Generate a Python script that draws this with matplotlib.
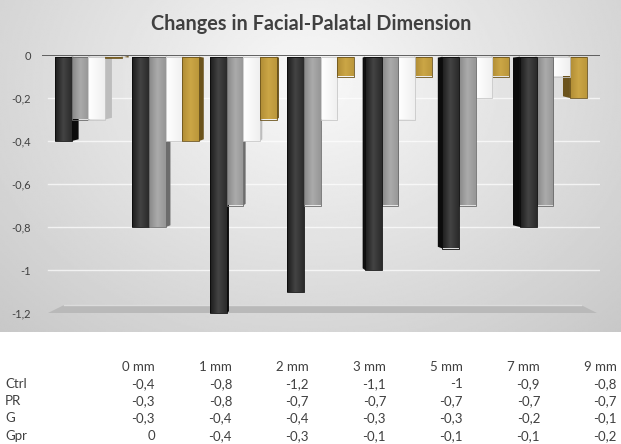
import numpy as np
import matplotlib
matplotlib.use("Agg")
import matplotlib.pyplot as plt
from matplotlib.patches import Polygon, Rectangle
from matplotlib.colors import LinearSegmentedColormap

# ---------------- data ----------------
categories = ["0 mm", "1 mm", "2 mm", "3 mm", "5 mm", "7 mm", "9 mm"]
series_names = ["Ctrl", "PR", "G", "Gpr"]
ctrl = [-0.4, -0.8, -1.2, -1.1, -1.0, -0.9, -0.8]
pr = [-0.3, -0.8, -0.7, -0.7, -0.7, -0.7, -0.7]
g = [-0.3, -0.4, -0.4, -0.3, -0.3, -0.2, -0.1]
gpr = [0.0, -0.4, -0.3, -0.1, -0.1, -0.1, -0.2]
series_values = [ctrl, pr, g, gpr]
y_ticks = [0, -0.2, -0.4, -0.6, -0.8, -1.0, -1.2]
title = "Changes in Facial-Palatal Dimension"

# ---------------- styles ----------------
FONT = ["Lato", "DejaVu Sans"]
TXT = "#404040"
front_cols = [
    ["#1c1c1c", "#444444", "#2a2a2a"],
    ["#888888", "#ababab", "#969696"],
    ["#ffffff", "#f8f8f8", "#efefef"],
    ["#b08c35", "#cba646", "#bb973b"],
]
side_cols = ["#0c0c0c", "#6c6c6c", "#bdbdbd", "#6b531c"]

W, H = 621, 444
fig = plt.figure(figsize=(W / 100, H / 100), dpi=100)
fig.patch.set_facecolor("white")

def px2fig(x, y):
    return x / W, 1 - y / H

# background gradient panel (chart area)
bg_top, bg_bot = 0, 332
bgax = fig.add_axes([0, 1 - bg_bot / H, 1, (bg_bot - bg_top) / H])
bgax.set_axis_off()
ny, nx = 200, 400
yy, xx = np.mgrid[0:1:ny * 1j, 0:1:nx * 1j]
r = np.sqrt(((xx - 0.5) / 0.75) ** 2 + ((yy - 0.25) / 1.1) ** 2)
val = np.clip(0.975 - 0.2 * r, 0.76, 1.0)
bgax.imshow(val, cmap="gray", vmin=0, vmax=1, aspect="auto",
            extent=[0, 1, 1, 0], interpolation="bilinear")
bgax.set_xlim(0, 1)
bgax.set_ylim(1, 0)

# main axes: pixel(x) = 88.3 + 77.5 x ; pixel(y) = 55 - 215 y
ax_l, ax_r = 42, 600
ax_t = 55
ymin = -1.25
ax_b = 55 + 215 * (-ymin)
ax = fig.add_axes([ax_l / W, 1 - ax_b / H, (ax_r - ax_l) / W, (ax_b - ax_t) / H])
ax.patch.set_alpha(0)
xlim = ((ax_l - 88.3) / 77.5, (ax_r - 88.3) / 77.5)
ax.set_xlim(*xlim)
ax.set_ylim(ymin, 0)
for s in ax.spines.values():
    s.set_visible(False)
ax.set_xticks([])
ax.set_yticks(y_ticks)
ax.set_yticklabels([("%g" % t).replace(".", ",") if t != 0 else "0" for t in y_ticks],
                   fontsize=8, color=TXT, family=FONT)
ax.tick_params(axis="y", length=0, pad=8)

def px_x(p):
    return (p - 88.3) / 77.5

# gridlines (faint)
for t in y_ticks[1:-1]:
    ax.plot([px_x(48), px_x(600)], [t, t], color="white", lw=1.0, alpha=0.7, zorder=1)

# floor
floor = Polygon([[px_x(64), -1.163], [px_x(581), -1.163], [px_x(597), -1.2], [px_x(48), -1.2]],
                closed=True, facecolor="#b9b9b9", edgecolor="none", zorder=1)
ax.add_patch(floor)
ax.plot([px_x(64), px_x(581)], [-1.163, -1.163], color="#dcdcdc", lw=1.0, zorder=1)

# zero line
ax.plot([xlim[0], xlim[1]], [0, 0], color="#555555", lw=1.3, zorder=2, solid_capstyle="butt")

bw = 0.215
side_max = 0.09
n = len(categories)

def draw_bar(x0, val, k, side):
    top = -0.008
    bot = min(val, -0.012)
    if side != 0:
        if side > 0:
            xs = [x0 + bw, x0 + bw + side, x0 + bw + side, x0 + bw]
        else:
            xs = [x0, x0 + side, x0 + side, x0]
        ys = [top, top - 0.004, bot + 0.008, bot]
        ax.add_patch(Polygon(list(zip(xs, ys)), closed=True, facecolor=side_cols[k],
                             edgecolor="none", zorder=3))
    cmap = LinearSegmentedColormap.from_list("c%d" % k, front_cols[k])
    grad = np.linspace(0, 1, 64)[None, :]
    im = ax.imshow(grad, cmap=cmap, aspect="auto", extent=[x0, x0 + bw, bot, top],
                   interpolation="bilinear", zorder=3)
    rect = Rectangle((x0, bot), bw, top - bot, transform=ax.transData, facecolor="none",
                     edgecolor="none")
    ax.add_patch(rect)
    im.set_clip_path(rect)
    ax.add_patch(Rectangle((x0, bot), bw, top - bot, facecolor="none",
                           edgecolor=side_cols[k] if k != 2 else "#c8c8c8",
                           lw=0.6, zorder=3))

for i in range(n):
    p = (3 - i) / 3.0
    side = side_max * p
    order = range(4) if p >= 0 else range(3, -1, -1)
    for k in order:
        x0 = i - 2 * bw + k * bw
        draw_bar(x0, series_values[k][i], k, side)

ax.set_xlim(*xlim)
ax.set_ylim(ymin, 0)

# title
tx, ty = px2fig(311, 24)
fig.text(tx, ty, title, ha="center", va="center", fontsize=14.3, fontweight="bold",
         color=TXT, family=FONT)

# data table
col_right = [155 + 77.0 * j for j in range(n)]
row_y = [367, 384, 401, 418, 436]
TFS = 9.5
for j, c in enumerate(categories):
    x, y = px2fig(col_right[j], row_y[0])
    fig.text(x, y, c, ha="right", va="center", fontsize=TFS, color=TXT, family=FONT)
for r_i, name in enumerate(series_names):
    x, y = px2fig(5, row_y[r_i + 1])
    fig.text(x, y, name, ha="left", va="center", fontsize=TFS, color=TXT, family=FONT)
    for j in range(n):
        v = series_values[r_i][j]
        s = ("%g" % v).replace(".", ",")
        x, y = px2fig(col_right[j], row_y[r_i + 1])
        fig.text(x, y, s, ha="right", va="center", fontsize=TFS, color=TXT, family=FONT)

fig.savefig("out.png", dpi=100)
